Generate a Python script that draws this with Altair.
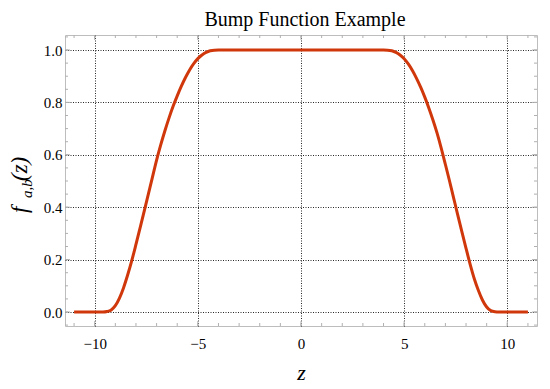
import altair as alt
import pandas as pd

# ---- data ----
z_vals = [-11.0, -9.6, -9.4, -9.2, -9.0, -8.8, -8.6, -8.4, -8.2, -8.0, -7.8, -7.6, -7.4,
          -7.2, -7.0, -6.8, -6.6, -6.4, -6.2, -6.0, -5.8, -5.6, -5.4, -5.2, -5.0, -4.8,
          -4.6, -4.4, -4.2, -4.0, 0.0,
          4.0, 4.2, 4.4, 4.6, 4.8, 5.0, 5.2, 5.4, 5.6, 5.8, 6.0, 6.2, 6.4, 6.6, 6.8,
          7.0, 7.2, 7.4, 7.6, 7.8, 8.0, 8.2, 8.4, 8.6, 8.8, 9.0, 9.2, 9.4, 9.6, 11.0]
f_vals = [0.0, 0.0, 0.002, 0.008, 0.024, 0.053, 0.093, 0.142, 0.197, 0.258, 0.321, 0.385, 0.450,
          0.515, 0.580, 0.638, 0.691, 0.740, 0.785, 0.825, 0.862, 0.895, 0.924, 0.948, 0.967, 0.981,
          0.991, 0.997, 0.9995, 1.0, 1.0,
          1.0, 0.9995, 0.997, 0.991, 0.981, 0.967, 0.947, 0.922, 0.892, 0.858, 0.820, 0.778, 0.732, 0.682, 0.625,
          0.563, 0.500, 0.435, 0.370, 0.306, 0.243, 0.182, 0.127, 0.082, 0.045, 0.019, 0.005, 0.001, 0.0, 0.0]

x_major = [-10, -5, 0, 5, 10]
x_minor = [-11, -10, -9, -8, -7, -6, -5, -4, -3, -2, -1, 0, 1, 2, 3, 4, 5, 6, 7, 8, 9, 10, 11]
y_major = [0.0, 0.2, 0.4, 0.6, 0.8, 1.0]
y_minor = [-0.05, 0.0, 0.05, 0.1, 0.15, 0.2, 0.25, 0.3, 0.35, 0.4, 0.45, 0.5, 0.55,
           0.6, 0.65, 0.7, 0.75, 0.8, 0.85, 0.9, 0.95, 1.0, 1.05]

title_text = "Bump Function Example"
x_title = "z"
y_title_parts = ["f", "a,b", "(z)"]

W, H = 472, 291
FONT = "Liberation Serif"
RED = "#D0380C"
TICK = "#b0b0b0"

xs = alt.Scale(domain=[-11.44, 11.44], nice=False, zero=False)
ys = alt.Scale(domain=[-0.0534, 1.0573], nice=False, zero=False)

xaxis = alt.Axis(values=x_major, title=x_title, titleY=53, titleBaseline="alphabetic",
                 labelPadding=10)
yaxis = alt.Axis(values=y_major, title=None, format=".1f", labelPadding=3)

df = pd.DataFrame({"z": z_vals, "f": f_vals})

line = alt.Chart(df).mark_line(color=RED, strokeWidth=3, interpolate="monotone").encode(
    x=alt.X("z:Q", scale=xs, axis=xaxis),
    y=alt.Y("f:Q", scale=ys, axis=yaxis),
)

def xticks(vals, length):
    d = pd.DataFrame({"z": vals})
    bot = alt.Chart(d).mark_rule(color=TICK, strokeWidth=1).encode(
        x=alt.X("z:Q", scale=xs, axis=xaxis), y=alt.value(H), y2=alt.value(H - length))
    top = alt.Chart(d).mark_rule(color=TICK, strokeWidth=1).encode(
        x=alt.X("z:Q", scale=xs, axis=xaxis), y=alt.value(0), y2=alt.value(length))
    return [bot, top]

def yticks(vals, length):
    d = pd.DataFrame({"f": vals})
    lft = alt.Chart(d).mark_rule(color=TICK, strokeWidth=1).encode(
        y=alt.Y("f:Q", scale=ys, axis=yaxis), x=alt.value(0), x2=alt.value(length))
    rgt = alt.Chart(d).mark_rule(color=TICK, strokeWidth=1).encode(
        y=alt.Y("f:Q", scale=ys, axis=yaxis), x=alt.value(W), x2=alt.value(W - length))
    return [lft, rgt]

tick_layers = xticks(x_minor, 3) + xticks(x_major, 5) + yticks(y_minor, 3) + yticks(y_major, 5)

def label(txt, size, xpos, ypos, angle=0, italic=True, align="left"):
    kw = dict(align=align, baseline="alphabetic", font=FONT, fontSize=size, color="black")
    if angle:
        kw["angle"] = angle
    if italic:
        kw["fontStyle"] = "italic"
    return alt.Chart(pd.DataFrame({"s": [txt]})).mark_text(**kw).encode(
        text="s:N", x=alt.value(xpos), y=alt.value(ypos))

texts = [label(y_title_parts[0], 23, -38, 178, angle=270),
         label(y_title_parts[1], 15, -33, 163, angle=270),
         label(y_title_parts[2], 23, -38, 146, angle=270),
         label(title_text, 20, W / 2 + 4, -9, italic=False, align="center")]

chart = alt.layer(line, *tick_layers, *texts).properties(
    width=W, height=H,
    autosize=alt.AutoSizeParams(type="none"),
    padding={"left": 57, "top": 27, "right": 5, "bottom": 63},
).configure_view(stroke="#bdbdbd", strokeWidth=1).configure_axis(
    grid=True, ticks=False, domain=False,
    gridColor="black", gridDash=[1, 1.5], gridWidth=1, gridOpacity=0.85,
    labelFont=FONT, labelFontSize=15, labelColor="black",
    titleFont=FONT, titleFontSize=22, titleFontStyle="italic", titleFontWeight="normal",
    titleColor="black",
)

chart.save("out.html", embed_options={"renderer": "svg", "actions": False})
